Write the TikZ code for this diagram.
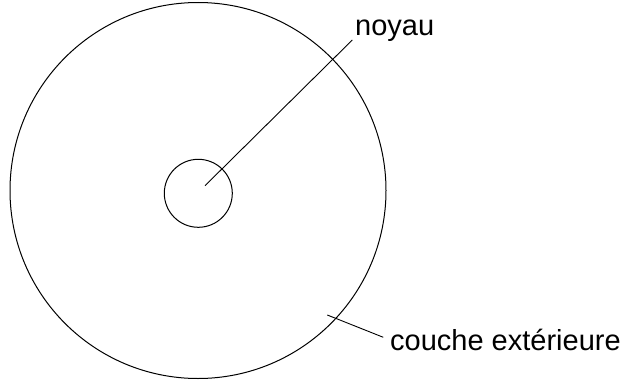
\documentclass[tikz,border=0pt]{standalone}
\usepackage{fontspec}
\setmainfont{Liberation Sans}
\begin{document}
\begin{tikzpicture}[x=1pt,y=-1pt,
  ring/.style={draw=black,line width=1pt,circle,inner sep=0pt},
  leader/.style={draw=black,line width=0.9pt},
  lbl/.style={anchor=base west,inner sep=0pt,font=\fontsize{29}{34}\selectfont}]
\useasboundingbox (0,0) rectangle (624,380);
\node[ring,minimum size=376pt] (outer) at (198,190.5) {};
\node[ring,minimum size=68pt] (core) at (198.3,193.3) {};
\node[lbl] (noyau) at (355,35) {noyau};
\node[lbl] (couche) at (390,350) {couche extérieure};
\coordinate (n1) at (205,185.7);
\coordinate (n2) at (352.3,40);
\coordinate (c1) at (327.3,315);
\coordinate (c2) at (383.3,337.3);
\draw[leader] (n1) -- (n2);
\draw[leader] (c1) -- (c2);
\end{tikzpicture}
\end{document}
